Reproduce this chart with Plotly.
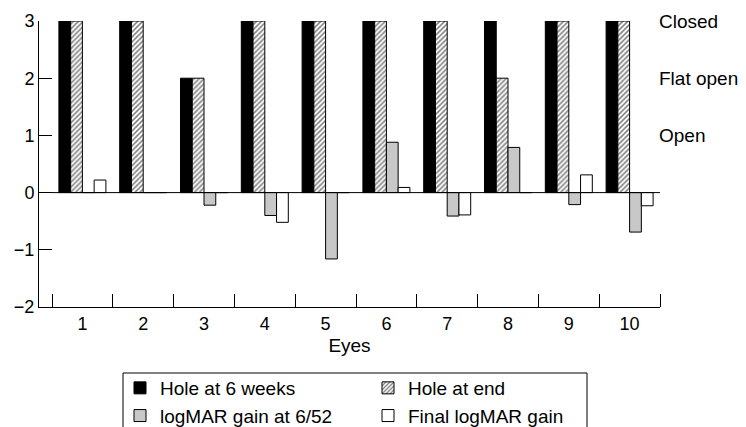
import plotly.graph_objects as go

# ---- data ----
eyes = [1, 2, 3, 4, 5, 6, 7, 8, 9, 10]
hole_at_6_weeks = [3, 3, 2, 3, 3, 3, 3, 3, 3, 3]
hole_at_end = [3, 3, 2, 3, 3, 3, 3, 2, 3, 3]
logmar_gain_6_52 = [0, 0, -0.22, -0.40, -1.16, 0.88, -0.41, 0.79, -0.21, -0.69]
final_logmar_gain = [0.22, 0, 0, -0.52, 0, 0.09, -0.39, 0, 0.31, -0.23]
y_tick_values = [-2, -1, 0, 1, 2, 3]
hole_state_levels = [3, 2, 1]
hole_state_labels = ["Closed", "Flat open", "Open"]
series_names = ["Hole at 6 weeks", "Hole at end", "logMAR gain at 6/52", "Final logMAR gain"]

# ---- layout geometry ----
W, H = 746, 427
L, R, T, B = 39, 86, 21, 120
pw, ph = W - L - R, H - T - B
cat_px = pw / (len(eyes) + 13 / 60.8)
x_lo = eyes[0] - 0.5 - 13 / cat_px
x_hi = eyes[-1] + 0.5
boundaries = [e - 0.5 for e in eyes] + [eyes[-1] + 0.5]

FONT = "Arial, Liberation Sans, Helvetica, sans-serif"
line_kw = dict(color="black", width=1)

fig = go.Figure()
fig.add_trace(go.Bar(x=eyes, y=hole_at_6_weeks, name=series_names[0],
                     marker=dict(color="black", line=line_kw)))
fig.add_trace(go.Bar(x=eyes, y=hole_at_end, name=series_names[1],
                     marker=dict(color="white",
                                 pattern=dict(shape="/", fgcolor="black", bgcolor="white",
                                              size=3.5, solidity=0.45),
                                 line=line_kw)))
fig.add_trace(go.Bar(x=eyes, y=logmar_gain_6_52, name=series_names[2],
                     marker=dict(color="#c8c8c8", line=line_kw)))
fig.add_trace(go.Bar(x=eyes, y=final_logmar_gain, name=series_names[3],
                     marker=dict(color="white", line=line_kw)))

# zero line across the categories
fig.add_shape(type="line", xref="x", yref="y", x0=boundaries[0], x1=boundaries[-1],
              y0=0, y1=0, line=dict(color="black", width=1))

def px_x(p):
    return (p - L) / pw

def px_y(p):
    return (T + ph - p) / ph

# legend frame (open at the bottom edge as in the reference)
fig.add_shape(type="rect", xref="paper", yref="paper",
              x0=px_x(123), x1=px_x(587), y0=px_y(373), y1=px_y(440),
              line=dict(color="black", width=1), fillcolor="rgba(0,0,0,0)")

for lvl, lab in zip(hole_state_levels, hole_state_labels):
    fig.add_annotation(x=1, xref="paper", y=lvl, yref="y", text=lab, showarrow=False,
                       xanchor="left", yanchor="middle", xshift=-3,
                       font=dict(family=FONT, size=19, color="black"))

fig.update_layout(
    width=W, height=H,
    margin=dict(l=L, r=R, t=T, b=B, autoexpand=False),
    paper_bgcolor="white", plot_bgcolor="white",
    barmode="group", bargap=0.227, bargroupgap=0,
    font=dict(family=FONT, size=18, color="black"),
    showlegend=True,
    legend=dict(orientation="h", x=px_x(120), xanchor="left", y=px_y(369), yanchor="top",
                borderwidth=0, bgcolor="rgba(0,0,0,0)",
                entrywidth=203, entrywidthmode="pixels",
                font=dict(family=FONT, size=19, color="black"),
                traceorder="normal"),
    xaxis=dict(range=[x_lo, x_hi], tickmode="array", tickvals=eyes,
               ticktext=[str(e) for e in eyes], ticks="",
               showline=True, linecolor="black", linewidth=1,
               showgrid=False, zeroline=False,
               minor=dict(tickmode="array", tickvals=boundaries, ticks="inside",
                          ticklen=13, tickcolor="black", tickwidth=1, showgrid=False),
               tickfont=dict(size=18),
               title=dict(text="Eyes", font=dict(size=19), standoff=6)),
    yaxis=dict(range=[-2, 3], tickmode="array", tickvals=y_tick_values,
               ticks="inside", ticklen=13, tickcolor="black", tickwidth=1,
               showline=True, linecolor="black", linewidth=1,
               showgrid=False, zeroline=False, tickfont=dict(size=18)),
)

fig.write_html("out.html", config={"displayModeBar": False},
               post_script="document.body.style.margin='0px';document.body.style.padding='0px';")
